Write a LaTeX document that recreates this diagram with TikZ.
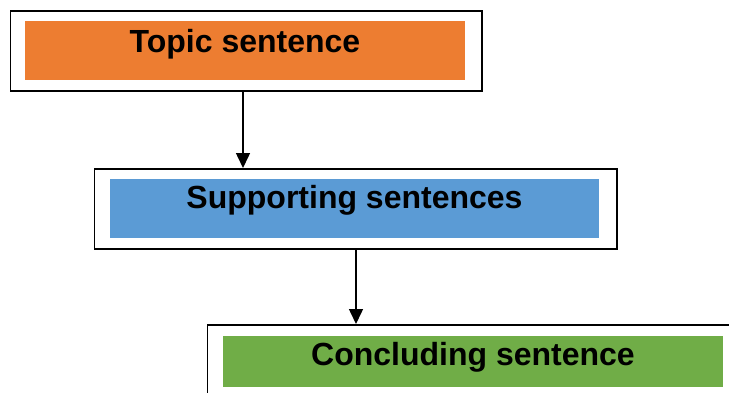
\documentclass[tikz,border=0pt]{standalone}
\usepackage{fontspec}
\setmainfont{Liberation Sans}
\usetikzlibrary{arrows.meta}
\definecolor{topicC}{HTML}{ED7D31}
\definecolor{suppC}{HTML}{5B9BD5}
\definecolor{concC}{HTML}{70AD47}
\begin{document}
\begin{tikzpicture}[x=1pt,y=-1pt,
  outerbox/.style={draw=black, line width=1.6pt, fill=white, rectangle, inner sep=0pt, anchor=north west},
  innerbox/.style={rectangle, inner sep=0pt, anchor=north west, draw=none},
  label/.style={anchor=base, inner sep=0pt, font=\fontsize{32}{38}\selectfont\bfseries},
  arr/.style={line width=1.5pt, -{Triangle[width=14pt,length=15pt]}}]
\useasboundingbox (0,0) rectangle (729,392);
\clip (0,0) rectangle (729,392);
% box 1
\node[outerbox, minimum width=471.5pt, minimum height=80pt] (o1) at (9.5,10) {};
\node[innerbox, fill=topicC, minimum width=440pt, minimum height=59pt] (i1) at (25,21) {};
\node[label] (t1) at (245,52) {Topic sentence};
% box 2
\node[outerbox, minimum width=522.5pt, minimum height=80pt] (o2) at (93.5,168) {};
\node[innerbox, fill=suppC, minimum width=489pt, minimum height=59pt] (i2) at (110,179) {};
\node[label] (t2) at (354.5,208) {Supporting sentences};
% box 3
\node[outerbox, minimum width=533.5pt, minimum height=80pt] (o3) at (206.5,324) {};
\node[innerbox, fill=concC, minimum width=500pt, minimum height=51pt] (i3) at (223,336) {};
\node[label] (t3) at (473,365) {Concluding sentence};
% arrows
\draw[arr] ([xshift=233.5pt]o1.south west) -- ([xshift=149.5pt]o2.north west);
\draw[arr] ([xshift=262.5pt]o2.south west) -- ([xshift=149.5pt]o3.north west);
\end{tikzpicture}
\end{document}
